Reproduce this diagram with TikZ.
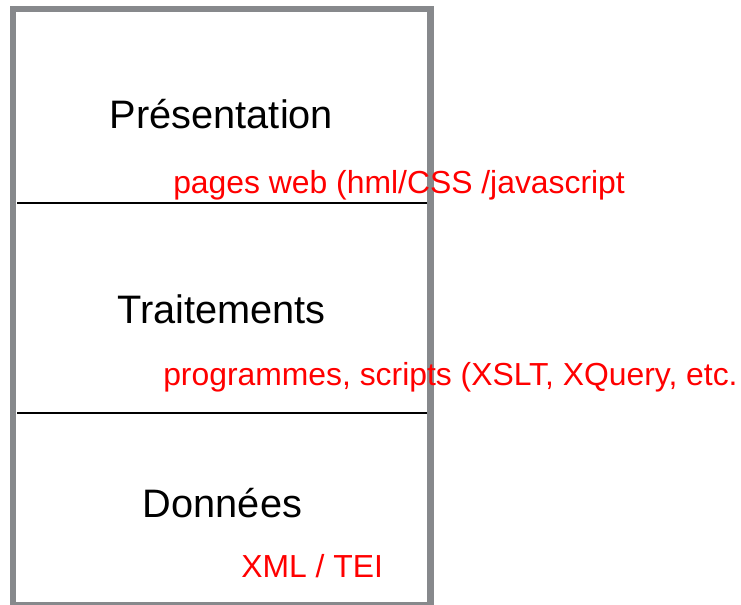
\documentclass[tikz,border=0pt]{standalone}
\usepackage{fontspec}
\setmainfont{Liberation Sans}
\definecolor{framegray}{RGB}{135,137,140}
\definecolor{notered}{RGB}{255,0,0}
\tikzset{
  layer/.style={anchor=base, inner sep=0pt, text=black, font=\fontsize{29.8}{35}\selectfont},
  note/.style={anchor=base west, inner sep=0pt, text=notered, font=\fontsize{23.9}{28}\selectfont},
  sep/.style={draw=black, line width=1.4pt},
  frame/.style={draw=framegray, line width=4.6pt}
}
\begin{document}
\begin{tikzpicture}[x=0.75pt, y=-0.75pt]
\useasboundingbox (0,0) rectangle (741,604);
\draw[frame] (13,9) rectangle (430.5,605);
\coordinate (s1l) at (17,203);
\coordinate (s1r) at (427,203);
\coordinate (s2l) at (17,413);
\coordinate (s2r) at (427,413);
\draw[sep] (s1l) -- (s1r);
\draw[sep] (s2l) -- (s2r);
\node[layer] (pres) at (221.5,128) {Présentation};
\node[layer] (trait) at (221.5,323) {Traitements};
\node[layer] (donn) at (222.5,517) {Données};
\node[note] (npres) at (173,193) {pages web (hml/CSS /javascript};
\node[note] (ntrait) at (163,385) {programmes, scripts (XSLT, XQuery, etc.};
\node[note] (ndonn) at (241,577) {XML / TEI};
\end{tikzpicture}
\end{document}
